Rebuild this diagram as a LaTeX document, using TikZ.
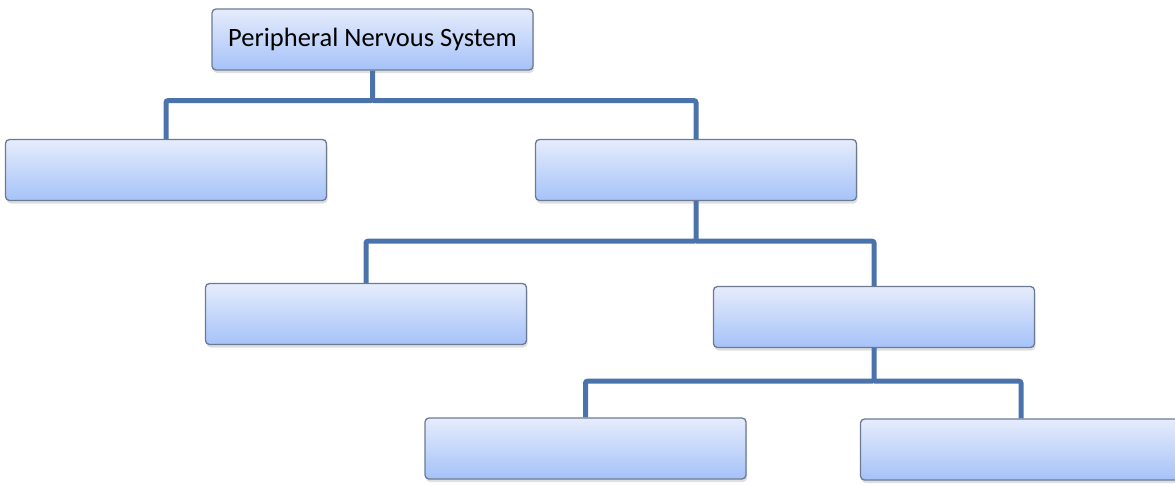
\documentclass[tikz,border=0pt]{standalone}
\usepackage{fontspec}
\setmainfont{Carlito}
\usetikzlibrary{shadows}
\definecolor{boxtop}{HTML}{E6ECFC}
\definecolor{boxbot}{HTML}{A5C2F8}
\definecolor{boxline}{HTML}{6C7B92}
\definecolor{connc}{HTML}{4A73AB}
\tikzset{
  box/.style={draw=boxline, line width=1.3pt, rounded corners=4pt,
    top color=boxtop, bottom color=boxbot, minimum width=321pt, minimum height=61pt,
    inner sep=0pt, font=\fontsize{26.5}{30}\selectfont,
    drop shadow={shadow xshift=1pt, shadow yshift=-3pt, opacity=0.25, fill=gray}},
  conn/.style={draw=connc, line width=5pt, rounded corners=2pt}
}
\begin{document}
\begin{tikzpicture}[x=1pt,y=-1pt]
\useasboundingbox (0,0) rectangle (1175,485);
\clip (0,0) rectangle (1175,485);
\node[box] (top) at (372.5,39.5) {Peripheral Nervous System};
\node[box] (a) at (166,170) {};
\node[box] (b) at (696,170) {};
\node[box] (c) at (366,314) {};
\node[box] (d) at (874,317) {};
\node[box] (e) at (585.5,448.5) {};
\node[box] (f) at (1021,449.5) {};
\draw[conn] (top.south) -- ++(0,30) coordinate (j1) -| (a.north);
\draw[conn] (j1) -| (b.north);
\draw[conn] (b.south) -- ++(0,40) coordinate (j2) -| (c.north);
\draw[conn] (j2) -| (d.north);
\draw[conn] (d.south) -- ++(0,33) coordinate (j3) -| (e.north);
\draw[conn] (j3) -| (f.north);
\end{tikzpicture}
\end{document}
